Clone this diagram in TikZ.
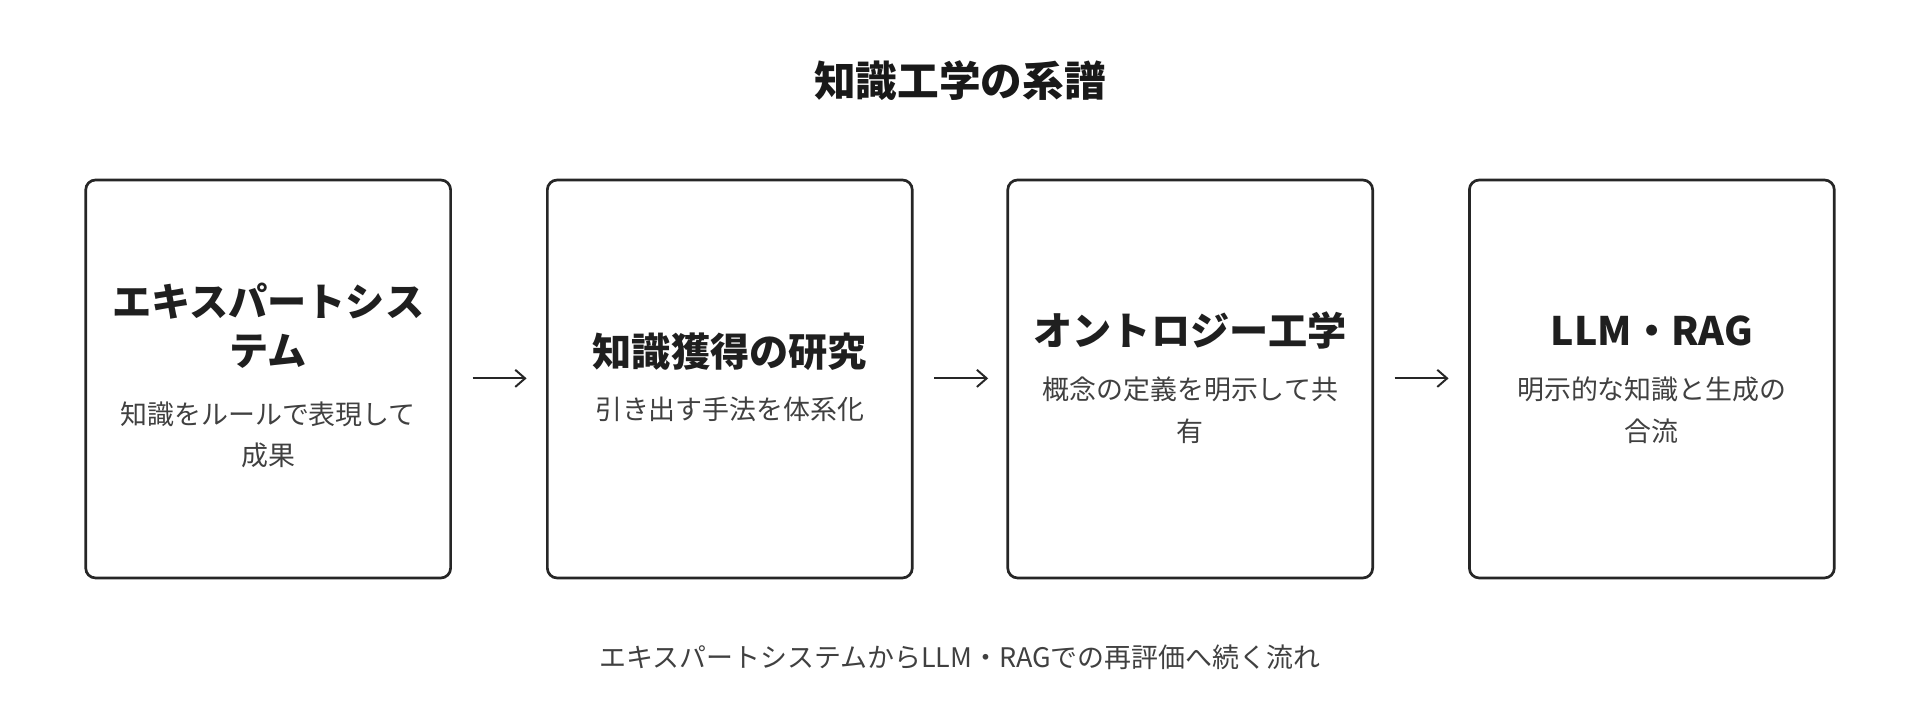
\documentclass[tikz,border=0pt]{standalone}
\usepackage{fontspec}
\setmainfont{Noto Sans CJK JP}
\newfontfamily\cjkb{Noto Sans CJK JP Bold}
\usetikzlibrary{arrows.meta}
\begin{document}
\begin{tikzpicture}[x=0.5pt,y=-0.5pt,
 box/.style={draw=black!85,line width=1.1pt,rounded corners=4pt,minimum width=149pt,minimum height=162.5pt},
 ttl/.style={font=\bfseries\fontsize{16}{20}\selectfont,text=black!88,align=center},
 dsc/.style={font=\fontsize{11}{17}\selectfont,text=black!75,align=center},
 arr/.style={-{Straight Barb[length=4pt,width=7pt]},line width=0.8pt,black!85}]
\useasboundingbox (0,0) rectangle (1568,584);
\node[font=\bfseries\fontsize{17}{20}\selectfont,text=black!90] (t) at (784,66) {知識工学の系譜};
\node[box] (b1) at (219,309.5) {};
\node[box] (b2) at (596,309.5) {};
\node[box] (b3) at (972,309.5) {};
\node[box] (b4) at (1349,309.5) {};
\node[ttl] (t1) at (219,266) {エキスパートシス\\テム};
\node[dsc] (d1) at (219,355) {知識をルールで表現して\\成果};
\node[ttl] (t2) at (596,287) {知識獲得の研究};
\node[dsc] (d2) at (596,334) {引き出す手法を体系化};
\node[ttl] (t3) at (972,270) {オントロジー工学};
\node[dsc] (d3) at (972,335) {概念の定義を明示して共\\有};
\node[ttl] (t4) at (1349,270) {LLM・RAG};
\node[dsc] (d4) at (1349,335) {明示的な知識と生成の\\合流};
\coordinate (a1s) at (386,309); \coordinate (a1e) at (430,309);
\coordinate (a2s) at (763,309); \coordinate (a2e) at (807,309);
\coordinate (a3s) at (1139,309); \coordinate (a3e) at (1183,309);
\draw[arr] (a1s) -- (a1e);
\draw[arr] (a2s) -- (a2e);
\draw[arr] (a3s) -- (a3e);
\node[dsc] (cap) at (784,537) {エキスパートシステムからLLM・RAGでの再評価へ続く流れ};
\end{tikzpicture}
\end{document}
